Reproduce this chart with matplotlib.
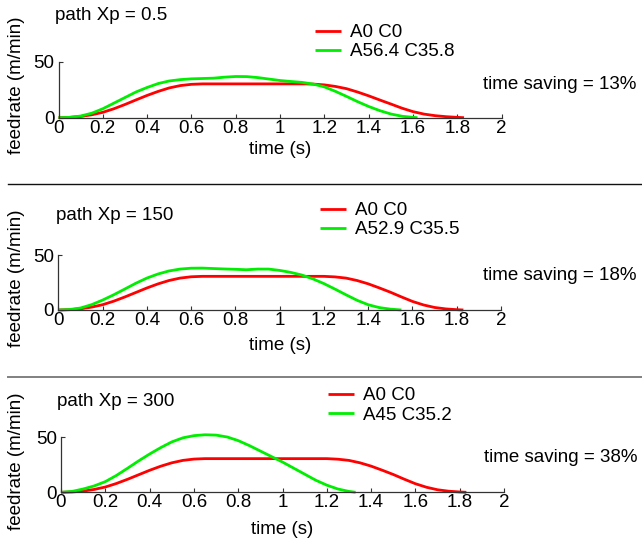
import matplotlib
matplotlib.use("Agg")
import matplotlib.pyplot as plt
from matplotlib.lines import Line2D

plt.rcParams['font.family'] = ['Liberation Sans', 'DejaVu Sans']

# ---------------- data ----------------
titles = ["path Xp = 0.5", "path Xp = 150", "path Xp = 300"]
labels_red = ["A0 C0", "A0 C0", "A0 C0"]
labels_green = ["A56.4 C35.8", "A52.9 C35.5", "A45 C35.2"]
savings = ["time saving = 13%", "time saving = 18%", "time saving = 38%"]

xticks = [0, 0.2, 0.4, 0.6, 0.8, 1, 1.2, 1.4, 1.6, 1.8, 2]
xticklabels = ["0", "0.2", "0.4", "0.6", "0.8", "1", "1.2", "1.4", "1.6", "1.8", "2"]
yticks = [0, 50]

# red (A0 C0) profile, panel 1
t_red1 = [0, 0.05, 0.1, 0.15, 0.2, 0.25, 0.3, 0.35, 0.4, 0.45, 0.5, 0.55, 0.6, 0.65,
          1.1, 1.15, 1.2, 1.25, 1.3, 1.35, 1.4, 1.45, 1.5, 1.55, 1.6, 1.65, 1.7, 1.75, 1.8, 1.83]
v_red1 = [0, 0.3, 1.1, 2.6, 4.8, 8.0, 11.8, 15.9, 19.9, 23.5, 26.6, 28.7, 29.8, 30.2,
          30.2, 30.0, 29.3, 27.9, 25.9, 22.9, 19.5, 15.8, 12.2, 8.5, 5.4, 3.2, 1.8, 0.9, 0.3, 0]

# red (A0 C0) profile, panels 2 and 3
t_red = [0, 0.05, 0.1, 0.15, 0.2, 0.25, 0.3, 0.35, 0.4, 0.45, 0.5, 0.55, 0.6, 0.65,
         1.2, 1.25, 1.3, 1.35, 1.4, 1.45, 1.5, 1.55, 1.6, 1.65, 1.7, 1.75, 1.8, 1.83]
v_red = [0, 0.3, 1.1, 2.6, 4.8, 8.0, 11.8, 15.9, 20.0, 23.7, 26.8, 29.0, 30.2, 30.6,
         30.6, 30.1, 29.0, 26.8, 23.8, 20.1, 16.2, 11.9, 7.8, 4.6, 2.3, 1.0, 0.3, 0]

# green profiles
t_g1 = [0, 0.05, 0.1, 0.15, 0.2, 0.25, 0.3, 0.35, 0.4, 0.45, 0.5, 0.55, 0.6, 0.65, 0.7,
        0.75, 0.8, 0.85, 0.9, 0.95, 1.0, 1.05, 1.1, 1.15, 1.2, 1.25, 1.3, 1.35, 1.4,
        1.45, 1.5, 1.55, 1.6, 1.62]
v_g1 = [0, 0.3, 1.5, 4.0, 8.0, 13.0, 18.0, 23.0, 27.0, 30.5, 32.8, 34.0, 34.7, 35.0, 35.3,
        36.2, 36.8, 36.7, 35.8, 34.5, 33.2, 32.3, 31.5, 30.0, 27.5, 23.5, 19.0, 14.3, 10.0,
        6.3, 3.3, 1.3, 0.3, 0]

t_g2 = [0, 0.05, 0.1, 0.15, 0.2, 0.25, 0.3, 0.35, 0.4, 0.45, 0.5, 0.55, 0.6, 0.65, 0.7,
        0.75, 0.8, 0.85, 0.9, 0.95, 1.0, 1.05, 1.1, 1.15, 1.2, 1.25, 1.3, 1.35, 1.4,
        1.45, 1.5, 1.55]
v_g2 = [0, 0.4, 1.8, 4.8, 9.0, 13.8, 19.0, 24.3, 29.0, 32.7, 35.5, 37.2, 38.0, 38.1, 37.7,
        37.3, 37.0, 36.6, 37.2, 37.2, 36.0, 34.2, 31.8, 28.3, 24.0, 19.0, 13.8, 8.8, 4.8,
        2.2, 0.8, 0]

t_g3 = [0, 0.05, 0.1, 0.15, 0.2, 0.25, 0.3, 0.35, 0.4, 0.45, 0.5, 0.55, 0.6, 0.65, 0.7,
        0.75, 0.8, 0.85, 0.9, 0.95, 1.0, 1.05, 1.1, 1.15, 1.2, 1.25, 1.3, 1.33]
v_g3 = [0, 0.8, 3.0, 5.8, 9.7, 15.3, 21.8, 28.5, 34.8, 40.6, 45.8, 49.5, 51.5, 52.3, 52.0,
        50.3, 47.0, 42.5, 37.5, 32.5, 27.5, 22.0, 16.5, 11.0, 6.5, 3.0, 0.8, 0]

reds = [(t_red1, v_red1), (t_red, v_red), (t_red, v_red)]
greens = [(t_g1, v_g1), (t_g2, v_g2), (t_g3, v_g3)]

# ---------------- layout (pixels) ----------------
W, H = 642, 550
FS = 13.5
fig = plt.figure(figsize=(W / 100, H / 100), dpi=100)

# axes boxes: x0, x1, ybottom, ytop (pixels from top)
boxes = [(58.5, 501.7, 117.7, 61.7), (58.3, 501.0, 310.0, 255.0), (61.0, 504.0, 492.3, 437.3)]
title_pos = [(55, 19.5), (56, 220), (57, 406.5)]
leg_pos = [(315, 24), (320, 202), (328, 387)]
save_pos = [(483, 89), (483, 280), (484, 462)]
xlab_pos = [(280, 150), (280, 346), (282, 530)]
ylab_x = 17

def fx(px):
    return px / W

def fy(py):
    return 1 - py / H

for i in range(3):
    x0, x1, yb, yt = boxes[i]
    ax = fig.add_axes([fx(x0), fy(yb), (x1 - x0) / W, (yb - yt) / H])
    tr, vr = reds[i]
    tg, vg = greens[i]
    l1, = ax.plot(tr, vr, color='#ff0000', lw=2.0, clip_on=False, solid_capstyle='butt')
    l2, = ax.plot(tg, vg, color='#00ee00', lw=2.0, clip_on=False, solid_capstyle='butt')
    ax.set_xlim(0, 2)
    ax.set_ylim(0, 50)
    ax.set_xticks(xticks)
    ax.set_xticklabels(xticklabels)
    ax.set_yticks(yticks)
    for s in ['top', 'right']:
        ax.spines[s].set_visible(False)
    for s in ['left', 'bottom']:
        ax.spines[s].set_color('#333333')
        ax.spines[s].set_linewidth(0.9)
    ax.tick_params(axis='x', direction='in', length=3, width=0.8, color='#333333',
                   labelsize=FS, pad=1.5)
    ax.tick_params(axis='y', direction='in', length=3, width=0.8, color='#333333',
                   labelsize=FS, pad=3)
    ax.patch.set_visible(False)

    fig.text(fx(title_pos[i][0]), fy(title_pos[i][1]), titles[i], fontsize=FS,
             ha='left', va='baseline')
    fig.text(fx(save_pos[i][0]), fy(save_pos[i][1]), savings[i], fontsize=FS,
             ha='left', va='baseline')
    fig.text(fx(xlab_pos[i][0]), fy(xlab_pos[i][1]), "time (s)", fontsize=FS,
             ha='center', va='center')
    fig.text(fx(ylab_x), fy((yb + yt) / 2 - 4), "feedrate (m/min)", fontsize=FS,
             ha='center', va='center', rotation=90)

    fig.legend([l1, l2], [labels_red[i], labels_green[i]], loc='upper left',
               bbox_to_anchor=(fx(leg_pos[i][0]), fy(leg_pos[i][1])),
               bbox_transform=fig.transFigure, frameon=False, fontsize=FS,
               handlelength=1.4, handletextpad=0.45, labelspacing=0.12,
               borderpad=0, borderaxespad=0)

# separators
fig.add_artist(Line2D([fx(8), 1], [fy(183.5), fy(183.5)], color='#111111', lw=1.0,
                      transform=fig.transFigure))
fig.add_artist(Line2D([fx(8), 1], [fy(377), fy(377)], color='#808080', lw=1.4,
                      transform=fig.transFigure))

fig.savefig("out.png", dpi=100)
